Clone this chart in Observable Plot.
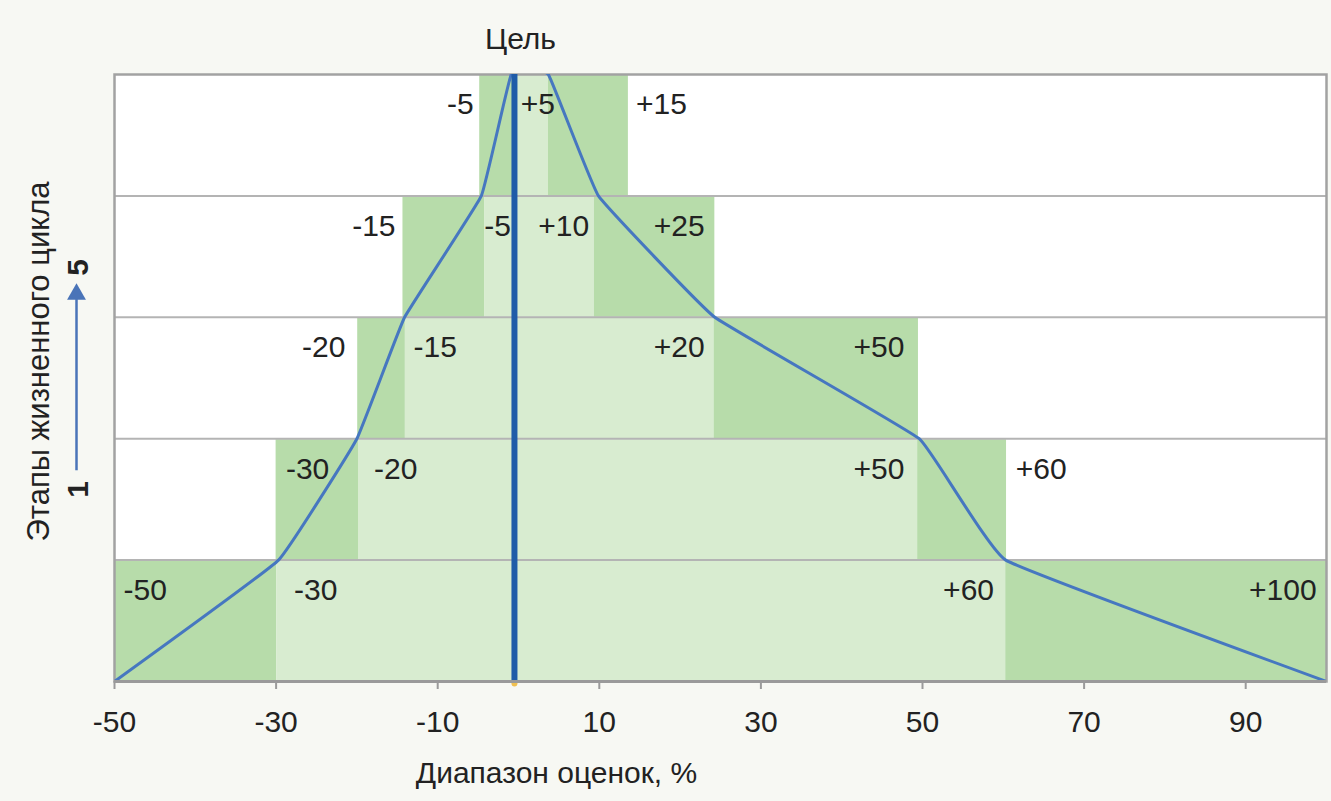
<!DOCTYPE html>
<html>
<head>
<meta charset="utf-8">
<script src="https://cdn.jsdelivr.net/npm/d3@7"></script>
<script src="https://cdn.jsdelivr.net/npm/@observablehq/plot@0.6"></script>
<style>
  html, body { margin: 0; padding: 0; background: #f7f8f3; }
  #chart svg { display: block; overflow: visible; }
</style>
</head>
<body>
<div id="chart"></div>
<script>
// ---- data ----
const xTicks = [-50, -30, -10, 10, 30, 50, 70, 90];
const targetValue = -0.5;
const targetLabel = "Цель";
const xTitle = "Диапазон оценок, %";
const yTitle = "Этапы жизненного цикла";

// horizontal bands per life-cycle stage (1 = bottom, 5 = top)
const barStage = [1, 1, 1, 2, 2, 2, 3, 3, 3, 4, 4, 4, 5, 5, 5];
const barFrom  = [-50, -29.9, 60.3, -30, -19.8, 49.4, -19.9, -14, 24.2, -14.3, -4.2, 9.4, -4.8, -0.4, 3.7];
const barTo    = [-29.9, 60.3, 100, -19.8, 49.4, 60.4, -14, 24.2, 49.5, -4.2, 9.4, 24.3, -0.4, 3.7, 13.6];
const barShade = ["dark", "light", "dark", "dark", "light", "dark", "dark", "light", "dark", "dark", "light", "dark", "dark", "light", "dark"];

// estimate-range funnel line
const curveX = [-50, -29.7, -20, -14.1, -4.6, -0.9, 3.7, 9.9, 24.3, 49.6, 60.3, 100];
const curveY = [0, 1, 2, 3, 4, 5, 5, 4, 3, 2, 1, 0];

// value labels
const labelStage = [5, 5, 5, 4, 4, 4, 4, 3, 3, 3, 3, 2, 2, 2, 2, 1, 1, 1, 1];
const labelText  = ["-5", "+5", "+15", "-15", "-5", "+10", "+25", "-20", "-15", "+20", "+50", "-30", "-20", "+50", "+60", "-50", "-30", "+60", "+100"];
const labelX     = [-7.2, 2.4, 17.7, -17.9, -2.6, 5.6, 19.9, -24.1, -10.3, 19.9, 44.6, -26.1, -15.2, 44.6, 64.7, -46.2, -25.1, 55.7, 94.6];

// ---- tables built from arrays ----
const bars = barStage.map((s, i) => ({stage: s, x1: barFrom[i], x2: barTo[i], shade: barShade[i]}));
const curve = curveX.map((x, i) => ({x, y: curveY[i]}));
const labels = labelText.map((t, i) => ({text: t, x: labelX[i], stage: labelStage[i]}));
const gridStages = [1, 2, 3, 4];

const shadeColor = {dark: "#b7dcaa", light: "#d8ecd0"};
const textColor = "#222";
const font = "'Liberation Sans', Arial, sans-serif";
const fs = 30;
const centered = {frameAnchor: "top-left", textAnchor: "middle", lineAnchor: "middle", text: d => d, fill: textColor};

const chart = Plot.plot({
  width: 1331,
  height: 801,
  marginLeft: 114,
  marginRight: 5,
  marginTop: 74,
  marginBottom: 120,
  style: {fontFamily: font, fontSize: fs + "px", background: "#f7f8f3", color: textColor},
  x: {domain: [-50, 100]},
  y: {domain: [0, 5], axis: null},
  marks: [
    Plot.frame({fill: "white", stroke: null}),
    Plot.rectX(bars, {x1: "x1", x2: "x2", y1: d => d.stage - 1, y2: "stage", fill: d => shadeColor[d.shade], insetTop: 1}),
    Plot.ruleY(gridStages, {stroke: "#b4b4b4", strokeWidth: 2}),
    Plot.frame({stroke: "#a2a2a2", strokeWidth: 2.5}),
    Plot.line(curve, {x: "x", y: "y", stroke: "#4677c0", strokeWidth: 3, curve: "cardinal", tension: 0.75, clip: true}),
    Plot.ruleX([targetValue], {y1: 0, y2: 5, stroke: "#1f5ca8", strokeWidth: 6}),
    Plot.dot([targetValue], {x: d => d, y: 0, r: 3, fill: "#f0c050", stroke: null, dy: 2}),
    Plot.ruleY([0], {stroke: "#9a9a9a", strokeWidth: 3}),
    Plot.axisX({ticks: xTicks, tickFormat: d => String(d), tickSize: 8, tickPadding: 21, stroke: "#9a9a9a", strokeWidth: 2, fill: textColor, label: null}),
    Plot.text(labels, {x: "x", y: d => d.stage - 0.25, text: "text", fill: textColor, fontSize: fs}),
    Plot.text([targetLabel], {x: () => targetValue, y: () => 5, text: d => d, dy: -35, dx: 6, fill: textColor, fontSize: fs}),
    Plot.text([xTitle], {...centered, dx: 442, dy: 699, fontSize: fs}),
    Plot.text([yTitle], {...centered, dx: -75, dy: 287, rotate: -90, fontSize: 31}),
    Plot.text(["5"], {...centered, dx: -36, dy: 193, rotate: -90, fontWeight: "bold", fontSize: fs}),
    Plot.text(["1"], {...centered, dx: -36, dy: 415, rotate: -90, fontWeight: "bold", fontSize: fs}),
    Plot.link([0], {x1: -50, x2: -50, y1: 1.74, y2: 3.15, dx: -38, stroke: "#4a74b8", strokeWidth: 2.5}),
    Plot.dot([0], {x: -50, y: 3.19, dx: -38, symbol: "triangle", r: 7, fill: "#4a74b8", stroke: null})
  ]
});
document.getElementById("chart").append(chart);
</script>
</body>
</html>
